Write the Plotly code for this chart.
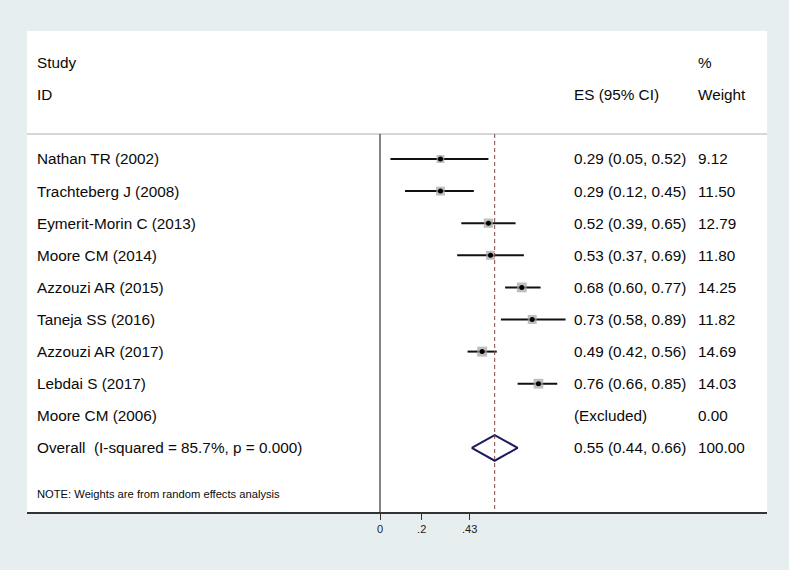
import plotly.graph_objects as go

# ---- data ----
studies = ["Nathan TR (2002)", "Trachteberg J (2008)", "Eymerit-Morin C (2013)",
           "Moore CM (2014)", "Azzouzi AR (2015)", "Taneja SS (2016)",
           "Azzouzi AR (2017)", "Lebdai S (2017)", "Moore CM (2006)"]
es = [0.29, 0.29, 0.52, 0.53, 0.68, 0.73, 0.49, 0.76, None]
lo = [0.05, 0.12, 0.39, 0.37, 0.60, 0.58, 0.42, 0.66, None]
hi = [0.52, 0.45, 0.65, 0.69, 0.77, 0.89, 0.56, 0.85, None]
weights = [9.12, 11.50, 12.79, 11.80, 14.25, 11.82, 14.69, 14.03, 0.00]
overall_label = "Overall  (I-squared = 85.7%, p = 0.000)"
overall = {"es": 0.55, "lo": 0.44, "hi": 0.66, "w": 100.00}
tick_vals = [0, 0.2, 0.43]
tick_text = ["0", ".2", ".43"]
note = "NOTE: Weights are from random effects analysis"

W, H = 789, 570
FONT = "Liberation Sans, Arial, sans-serif"
BG = "#e6eef0"
FS = 15.3
TXT = "#0a0a0a"

# layout geometry (pixels)
px_left, px_right, px_top, px_bot = 27, 767, 31, 512
x0_px, px_per_unit = 380, 208.5
row0_px, row_h = 159, 32.1

xr = [(px_left - x0_px) / px_per_unit, (px_right - x0_px) / px_per_unit]
yr = [(px_bot - row0_px) / row_h, (px_top - row0_px) / row_h]
y_hdr_line = (134 - row0_px) / row_h

fig = go.Figure()

rows = list(range(len(studies)))
# CI lines
cx, cy = [], []
for i in rows:
    if es[i] is not None:
        cx += [lo[i], hi[i], None]
        cy += [i, i, None]
fig.add_trace(go.Scatter(x=cx, y=cy, mode="lines", line=dict(color="#111111", width=2),
                         hoverinfo="skip", showlegend=False))
# weight boxes
idx = [i for i in rows if es[i] is not None]
fig.add_trace(go.Scatter(x=[es[i] for i in idx], y=idx, mode="markers",
                         marker=dict(symbol="square", color="#a2a2a2",
                                     size=[2.6 * weights[i] ** 0.5 for i in idx],
                                     line=dict(width=0)),
                         showlegend=False, hoverinfo="skip"))
fig.add_trace(go.Scatter(x=[es[i] for i in idx], y=idx, mode="markers",
                         marker=dict(symbol="circle", color="black", size=5),
                         showlegend=False, hoverinfo="skip"))
# overall diamond
orow = len(studies)
dh = 0.4
fig.add_trace(go.Scatter(x=[overall["lo"], overall["es"], overall["hi"], overall["es"], overall["lo"]],
                         y=[orow, orow - dh, orow, orow + dh, orow], mode="lines",
                         line=dict(color="#1c1c5c", width=2), showlegend=False, hoverinfo="skip"))

shapes = [
    dict(type="line", xref="paper", yref="y", x0=px_left / W, x1=px_right / W, y0=y_hdr_line, y1=y_hdr_line,
         line=dict(color="#c8c8c8", width=1.5)),
    dict(type="line", xref="x", yref="y", x0=0, x1=0, y0=y_hdr_line, y1=yr[0],
         line=dict(color="#333333", width=1.2)),
    dict(type="line", xref="x", yref="y", x0=overall["es"], x1=overall["es"], y0=y_hdr_line, y1=yr[0],
         line=dict(color="#844444", width=1, dash="4px,3px")),
]

ann = []

def txt(x, y, s, size=FS):
    ann.append(dict(xref="paper", yref="y", x=x, y=y, text=s, showarrow=False,
                    xanchor="left", yanchor="middle", font=dict(family=FONT, size=size, color=TXT)))

def px2paper(px):
    return px / W

txt(px2paper(35), -3, "Study")
txt(px2paper(35), -2, "ID")
txt(px2paper(572), -2, "ES (95% CI)")
txt(px2paper(696), -3, "%")
txt(px2paper(696), -2, "Weight")
for i in rows:
    txt(px2paper(35), i, studies[i])
    if es[i] is None:
        txt(px2paper(572), i, "(Excluded)")
    else:
        txt(px2paper(572), i, f"{es[i]:.2f} ({lo[i]:.2f}, {hi[i]:.2f})")
    txt(px2paper(696), i, f"{weights[i]:.2f}")
txt(px2paper(35), orow, overall_label)
txt(px2paper(572), orow, f"{overall['es']:.2f} ({overall['lo']:.2f}, {overall['hi']:.2f})")
txt(px2paper(696), orow, f"{overall['w']:.2f}")
txt(px2paper(35), (494 - row0_px) / row_h, note, size=11.2)

fig.update_layout(
    width=W, height=H, margin=dict(l=0, r=0, t=0, b=0),
    paper_bgcolor=BG, plot_bgcolor="white",
    shapes=shapes, annotations=ann,
    xaxis=dict(domain=[px_left / W, px_right / W], range=xr, showgrid=False, zeroline=False,
               showline=True, linecolor="#333333", linewidth=1.5,
               ticks="outside", ticklen=6, tickcolor="#333333", tickwidth=1.2,
               tickvals=tick_vals, ticktext=tick_text,
               tickfont=dict(family=FONT, size=11, color="#222222")),
    yaxis=dict(domain=[(H - px_bot) / H, (H - px_top) / H], range=yr, showgrid=False,
               zeroline=False, showticklabels=False, showline=False),
)

fig.write_html("out.html", config={"displayModeBar": False},
               post_script="document.body.style.margin='0';document.body.style.overflow='hidden';")
